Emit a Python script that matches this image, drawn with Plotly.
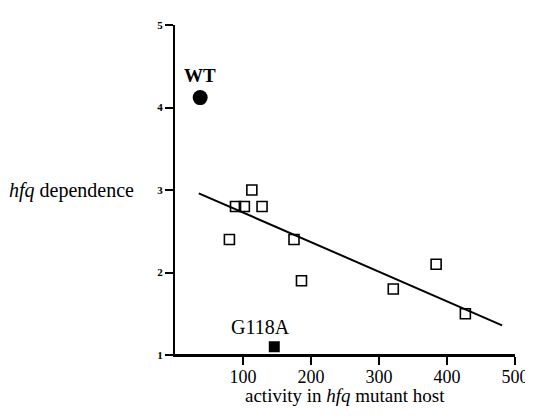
import plotly.graph_objects as go

# open squares: mutants
mut_x = [80, 89, 102, 113, 128, 175, 186, 321, 384, 427]
mut_y = [2.4, 2.8, 2.8, 3.0, 2.8, 2.4, 1.9, 1.8, 2.1, 1.5]
# wild type
wt_x = [37]
wt_y = [4.12]
# G118A
g_x = [146]
g_y = [1.1]
# regression line
fit_x = [35, 481]
fit_y = [2.96, 1.36]

x_ticks = [100, 200, 300, 400, 500]
y_ticks = [1, 2, 3, 4, 5]

SERIF = "Liberation Serif, Times New Roman, serif"

fig = go.Figure()
fig.add_trace(go.Scatter(x=mut_x, y=mut_y, mode="markers",
                         marker=dict(symbol="square-open", size=10, color="black",
                                     line=dict(width=1.6, color="black")),
                         showlegend=False))
fig.add_trace(go.Scatter(x=fit_x, y=fit_y, mode="lines",
                         line=dict(color="black", width=2), showlegend=False))
fig.add_trace(go.Scatter(x=wt_x, y=wt_y, mode="markers",
                         marker=dict(symbol="circle", size=15, color="black"),
                         showlegend=False))
fig.add_trace(go.Scatter(x=g_x, y=g_y, mode="markers",
                         marker=dict(symbol="square", size=11, color="black"),
                         showlegend=False))

fig.add_annotation(x=wt_x[0], y=wt_y[0], text="<b>WT</b>", showarrow=False,
                   yshift=22, font=dict(family=SERIF, size=19, color="black"))
fig.add_annotation(x=g_x[0], y=g_y[0], text="G118A", showarrow=False,
                   yshift=20, xshift=-14, font=dict(family=SERIF, size=20, color="black"))
fig.add_annotation(xref="paper", yref="y", x=-0.115, y=3.0, xanchor="right",
                   text="<i>hfq</i> dependence", showarrow=False,
                   font=dict(family=SERIF, size=20, color="black"))
fig.add_annotation(xref="paper", yref="paper", x=0.5, y=-0.123, yanchor="middle",
                   text="activity in <i>hfq</i> mutant host", showarrow=False,
                   font=dict(family=SERIF, size=19, color="black"))

# bottom axis line and its tick marks, tied to the axis values
fig.add_shape(type="line", xref="paper", yref="y", x0=-0.02, x1=1,
              y0=y_ticks[0], y1=y_ticks[0], line=dict(color="black", width=2),
              layer="above")
for t in x_ticks:
    fig.add_shape(type="line", xref="x", yref="paper", x0=t, x1=t,
                  y0=0, y1=-0.024, line=dict(color="black", width=2),
                  layer="above")

fig.update_layout(
    width=533, height=419,
    margin=dict(l=167, r=26, t=11, b=72),
    plot_bgcolor="rgba(0,0,0,0)",
    xaxis=dict(range=[0, 500], tickvals=x_ticks, showgrid=False, zeroline=False,
               showline=True, linecolor="black", linewidth=2,
               ticks="outside", ticklen=8, tickwidth=2, tickcolor="black",
               ticklabelstandoff=-4,
               tickfont=dict(family=SERIF, size=18, color="black")),
    yaxis=dict(range=[1, 5], tickvals=y_ticks, showgrid=False, zeroline=False,
               showline=True, linecolor="black", linewidth=2,
               ticks="outside", ticklen=8, tickwidth=2, tickcolor="black",
               tickfont=dict(family=SERIF, size=11, color="black", weight="bold")),
)

fig.write_html("out.html")
